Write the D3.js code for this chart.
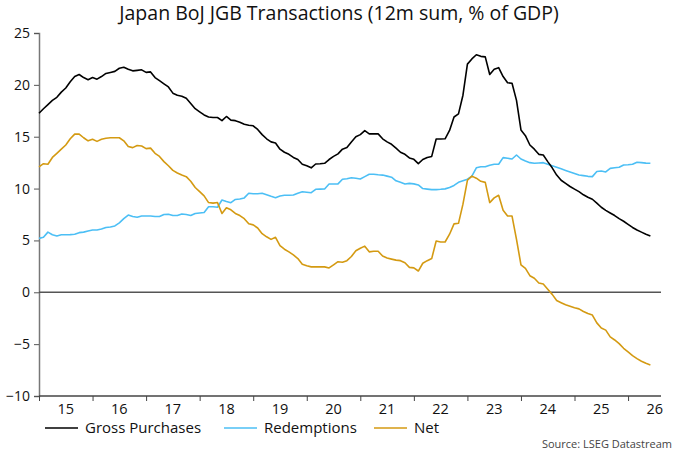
<!DOCTYPE html>
<html><head><meta charset="utf-8">
<script src="https://cdn.jsdelivr.net/npm/d3@7"></script>
<style>body{margin:0;background:#fff}svg{display:block;font-family:"Open Sans",sans-serif}</style>
</head><body><svg id="c" width="680" height="454"></svg>
<script>
const title = "Japan BoJ JGB Transactions (12m sum, % of GDP)";
const startYear = 2015; // monthly data from Jan 2015
const yearLabels = ["15","16","17","18","19","20","21","22","23","24","25","26"];
const yTicks = [-10,-5,0,5,10,15,20,25];
const seriesNames = ["Gross Purchases","Redemptions","Net"];
const seriesColors = ["#000000","#4cbff5","#d49a12"];
const gross = [17.26,17.7,18.1,18.5,18.8,19.3,19.7,20.3,20.8,21.0,20.7,20.5,20.7,20.55,20.8,21.1,21.2,21.3,21.6,21.7,21.5,21.35,21.4,21.45,21.2,21.25,20.7,20.4,20.1,19.8,19.2,19.0,18.9,18.7,18.2,17.7,17.4,17.1,16.9,16.85,16.85,16.55,16.95,16.6,16.55,16.4,16.2,16.1,16.05,15.7,15.2,14.8,14.5,14.4,13.8,13.5,13.3,13.0,12.8,12.35,12.2,12.0,12.37,12.4,12.44,12.8,13.1,13.35,13.8,13.95,14.5,15.0,15.2,15.58,15.27,15.27,15.27,14.8,14.5,14.27,13.9,13.5,13.3,12.95,12.82,12.4,12.8,13.0,13.1,14.78,14.78,14.8,15.6,16.9,17.2,19.0,22.0,22.5,22.9,22.75,22.7,21.0,21.5,21.66,20.8,20.2,20.15,18.5,15.65,15.1,14.2,13.8,13.3,13.24,12.6,12.0,11.3,10.8,10.5,10.2,9.95,9.7,9.4,9.16,8.97,8.6,8.2,7.9,7.65,7.4,7.1,6.85,6.55,6.25,6.0,5.8,5.6,5.43];
const redemptions = [5.2,5.3,5.8,5.55,5.43,5.55,5.55,5.56,5.6,5.75,5.8,5.9,6.0,6.0,6.1,6.25,6.3,6.4,6.7,7.1,7.45,7.3,7.23,7.36,7.36,7.36,7.3,7.3,7.5,7.52,7.4,7.4,7.55,7.5,7.4,7.6,7.65,7.7,8.25,8.25,8.2,8.9,8.75,8.64,8.95,9.0,9.1,9.55,9.5,9.5,9.55,9.4,9.25,9.12,9.29,9.35,9.35,9.38,9.55,9.7,9.65,9.6,9.93,9.95,9.96,10.44,10.44,10.45,10.9,10.95,11.05,11.0,10.93,11.15,11.38,11.38,11.33,11.3,11.2,11.1,10.75,10.6,10.44,10.5,10.45,10.35,10.0,9.95,9.9,9.9,9.93,9.97,10.1,10.3,10.6,10.75,10.9,11.2,12.0,12.1,12.1,12.25,12.34,12.34,12.98,12.92,12.85,13.24,12.85,12.65,12.5,12.44,12.47,12.5,12.35,12.2,12.05,11.9,11.75,11.6,11.45,11.31,11.25,11.18,11.15,11.65,11.7,11.6,11.95,12.0,12.05,12.28,12.3,12.34,12.54,12.5,12.45,12.44];
const net = [12.1,12.4,12.35,13.0,13.4,13.8,14.2,14.8,15.25,15.25,14.9,14.6,14.75,14.55,14.75,14.85,14.9,14.9,14.9,14.6,14.05,13.95,14.15,14.1,13.85,13.9,13.4,13.1,12.6,12.2,11.75,11.5,11.3,11.15,10.7,10.1,9.7,9.3,8.65,8.6,8.65,7.6,8.15,7.95,7.6,7.4,7.1,6.6,6.5,6.2,5.65,5.35,5.1,5.3,4.5,4.15,3.9,3.6,3.25,2.7,2.55,2.45,2.45,2.45,2.45,2.35,2.65,2.95,2.9,3.05,3.45,4.0,4.25,4.45,3.9,3.95,3.95,3.5,3.3,3.2,3.1,3.05,2.85,2.4,2.35,2.05,2.8,3.05,3.25,4.95,4.85,4.85,5.6,6.6,6.65,8.5,10.8,11.2,11.0,10.7,10.6,8.65,9.1,9.35,7.9,7.35,7.35,5.1,2.65,2.3,1.6,1.35,0.9,0.8,0.3,-0.2,-0.8,-1.0,-1.2,-1.35,-1.5,-1.6,-1.85,-2.05,-2.2,-2.95,-3.45,-3.65,-4.3,-4.6,-4.95,-5.4,-5.75,-6.1,-6.4,-6.65,-6.85,-7.0];

const svg = d3.select("#c");
const x = d3.scaleLinear().domain([2015, 2026.615]).range([39, 661]);
const y = d3.scaleLinear().domain([-10, 25]).range([396, 33]);

svg.append("text").attr("x", 339).attr("y", 20).attr("text-anchor","middle")
  .attr("font-size", 19.5).attr("fill","#111").text(title);

// y axis
const yAxis = d3.axisLeft(y).tickValues(yTicks).tickSize(5).tickPadding(4);
const gy = svg.append("g").attr("transform","translate(39,0)").call(yAxis);
gy.select(".domain").attr("stroke","#777").attr("stroke-width",1.5);
gy.selectAll(".tick line").attr("stroke","#555");
gy.selectAll(".tick text").attr("font-size",14).attr("fill","#111").attr("font-family","'Open Sans',sans-serif");

// zero line
svg.append("line").attr("x1",39).attr("x2",661).attr("y1",y(0)).attr("y2",y(0))
  .attr("stroke","#555").attr("stroke-width",1.5);

// x axis
const years = d3.range(2015, 2027);
const xAxis = d3.axisBottom(x).tickValues(years).tickSize(5).tickFormat("");
const gx = svg.append("g").attr("transform","translate(0,396)").call(xAxis);
gx.select(".domain").attr("stroke","#444").attr("stroke-width",1.5).attr("d","M39,0H661");
gx.selectAll(".tick line").attr("stroke","#444");
svg.append("g").selectAll("text").data(yearLabels).join("text")
  .attr("x",(d,i)=>x(years[i]+0.5)).attr("y",414).attr("text-anchor","middle")
  .attr("font-size",14.5).attr("fill","#111").text(d=>d);

// lines
const series = [gross, redemptions, net];
const line = d3.line().x((d,i)=>x(startYear + i/12)).y(d=>y(d));
[1,2,0].forEach(k=>{
  svg.append("path").datum(series[k]).attr("d", line).attr("fill","none")
    .attr("stroke", seriesColors[k]).attr("stroke-width",1.6).attr("stroke-linejoin","round");
});

// legend
const legX = [45, 224, 374];
seriesNames.forEach((n,k)=>{
  svg.append("line").attr("x1",legX[k]).attr("x2",legX[k]+33).attr("y1",428).attr("y2",428)
    .attr("stroke",seriesColors[k]).attr("stroke-width",1.6);
  svg.append("text").attr("x",legX[k]+40).attr("y",433).attr("font-size",15).attr("fill","#111").text(n);
});

svg.append("text").attr("x",672).attr("y",448).attr("text-anchor","end")
  .attr("font-size",11).attr("fill","#444").text("Source: LSEG Datastream");
</script></body></html>
